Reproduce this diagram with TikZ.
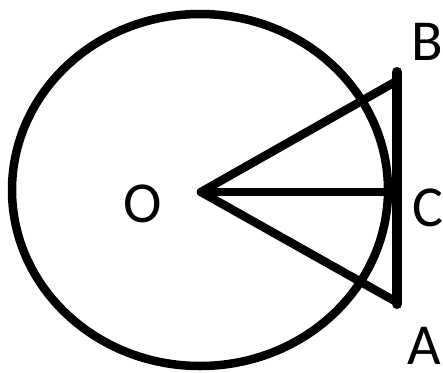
\documentclass[tikz,border=0pt]{standalone}
\usepackage{fontspec}
\setmainfont{Carlito}
\usetikzlibrary{positioning, calc}
\tikzset{
  thick line/.style={line width=8.5pt, line cap=round, line join=round},
  tangent line/.style={line width=10pt, line cap=round},
  pt label/.style={font=\fontsize{58}{58}\selectfont, inner sep=0pt, anchor=base west},
}

\begin{document}
\begin{tikzpicture}[x=1pt, y=-1pt]
\useasboundingbox (0,0) rectangle (443,372);

% ── Puntos ──────────────────────────────────────────────────
\coordinate (O) at (201,192);
\coordinate (B) at (397,72);
\coordinate (C) at (397,192);
\coordinate (A) at (397,304);
\coordinate (bt) at (395,82);
\coordinate (at) at (393,300);

% ── Circunferencia ──────────────────────────────────────────
\draw[thick line] (200,190) ellipse [x radius=188, y radius=176];

% ── Tangente y radios ───────────────────────────────────────
\draw[tangent line] (B) -- (A);
\draw[thick line] (bt) -- (O) -- (at);
\draw[thick line] (O) -- (C);

% ── Etiquetas ───────────────────────────────────────────────
\node[pt label] (lO) at (123,222) {O};
\node[pt label] (lB) at (411,60) {B};
\node[pt label] (lC) at (412,226) {C};
\node[pt label] (lA) at (407,364) {A};

\end{tikzpicture}
\end{document}
